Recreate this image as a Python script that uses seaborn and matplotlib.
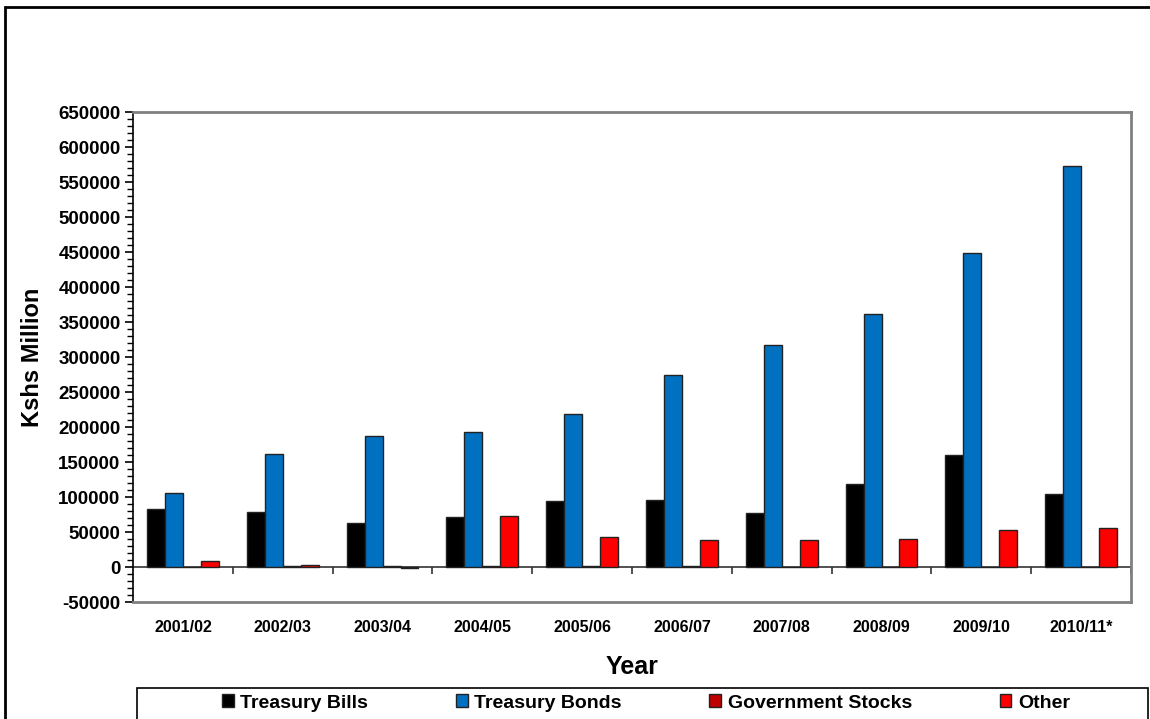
import matplotlib
matplotlib.use("Agg")
import matplotlib.pyplot as plt
import matplotlib.patches as mpatches
from matplotlib.ticker import MultipleLocator, FuncFormatter
import seaborn as sns
import pandas as pd

years = ["2001/02", "2002/03", "2003/04", "2004/05", "2005/06",
         "2006/07", "2007/08", "2008/09", "2009/10", "2010/11*"]
treasury_bills = [82400, 78600, 63400, 72000, 94300, 95700, 77100, 118600, 160000, 104900]
treasury_bonds = [105700, 161400, 187100, 192400, 218100, 273600, 317500, 362100, 448900, 572600]
government_stocks = [0, 1400, 1000, 1400, 1400, 1000, 300, 200, 200, 200]
other = [9100, 3400, -1000, 73400, 42400, 38600, 38600, 40500, 52900, 55700]
series_names = ["Treasury Bills", "Treasury Bonds", "Government Stocks", "Other"]
colors = ["#000000", "#0070C0", "#C00000", "#FF0000"]

rows = []
for name, vals in zip(series_names, [treasury_bills, treasury_bonds, government_stocks, other]):
    for y, v in zip(years, vals):
        rows.append({"Year": y, "Value": v, "Series": name})
df = pd.DataFrame(rows)

sns.set_theme(style="white")
plt.rcParams["font.family"] = ["Liberation Sans", "DejaVu Sans"]
plt.rcParams["text.color"] = "black"
plt.rcParams["axes.labelcolor"] = "black"
plt.rcParams["xtick.color"] = "black"
plt.rcParams["ytick.color"] = "black"

fig = plt.figure(figsize=(11.5, 7.19), dpi=100)
ax = fig.add_axes([0.1157, 0.1627, 0.8678, 0.6815])

sns.barplot(data=df, x="Year", y="Value", hue="Series", hue_order=series_names,
            order=years, palette=colors, width=0.72, ax=ax,
            edgecolor="#222222", linewidth=1.0, errorbar=None, saturation=1)

ymin, ymax = -50000, 650000
ax.set_ylim(ymin, ymax)
ax.set_xlim(-0.5, len(years) - 0.5)
ax.yaxis.set_major_locator(MultipleLocator(50000))
ax.yaxis.set_minor_locator(MultipleLocator(10000))
ax.yaxis.set_major_formatter(FuncFormatter(lambda v, p: f"{int(v)}"))
ax.tick_params(axis="y", which="major", direction="out", length=6, width=1.2,
               color="black", labelcolor="black", labelsize=13.5, pad=3, left=True)
ax.tick_params(axis="y", which="minor", direction="out", length=4, width=1.0,
               color="black", left=True)
for lab in ax.get_yticklabels():
    lab.set_fontweight("bold")
ax.tick_params(axis="x", length=0, labelsize=11.5, labelcolor="black", pad=13)
for lab in ax.get_xticklabels():
    lab.set_fontweight("bold")

for s in ["top", "right", "bottom"]:
    ax.spines[s].set_color("#808080")
    ax.spines[s].set_linewidth(2)
ax.spines["left"].set_color("black")
ax.spines["left"].set_linewidth(1.2)

# zero axis line with category separator ticks
loc = (0 - ymin) / (ymax - ymin)
sec = ax.secondary_xaxis(loc)
sec.set_xticks([i + 0.5 for i in range(len(years) - 1)] + [len(years) - 0.5])
sec.set_xticklabels([])
sec.tick_params(axis="x", direction="out", length=5, width=1.2, color="#333333")
sec.spines["bottom"].set_color("#333333")
sec.spines["bottom"].set_linewidth(1.2)

ax.set_xlabel("Year", fontsize=18, fontweight="bold", labelpad=14, color="black")
ax.set_ylabel("Kshs Million", fontsize=17, fontweight="bold", labelpad=10, color="black")

handles, labels = ax.get_legend_handles_labels()
ax.get_legend().remove()

# legend box spanning the bottom
fig.patches.append(mpatches.Rectangle((137 / 1150, -0.01), (1148 - 137) / 1150,
                                      0.01 + 1 - 688 / 719, fill=False,
                                      edgecolor="black", linewidth=1.2,
                                      transform=fig.transFigure, figure=fig))
leg = fig.legend(handles, labels, loc="center", ncol=4,
                 bbox_to_anchor=(646 / 1150, 1 - 703 / 719),
                 prop={"weight": "bold", "size": 14}, frameon=False,
                 handlelength=0.6, handleheight=0.6, handletextpad=0.35,
                 columnspacing=4.5, borderpad=0.0)
for t in leg.get_texts():
    t.set_color("black")

# outer border of the chart area
fig.patches.append(mpatches.Rectangle((0.0043, -0.01), 1.02, 1.0003, fill=False,
                                      edgecolor="black", linewidth=2,
                                      transform=fig.transFigure, figure=fig))

fig.savefig("out.png", dpi=100)
